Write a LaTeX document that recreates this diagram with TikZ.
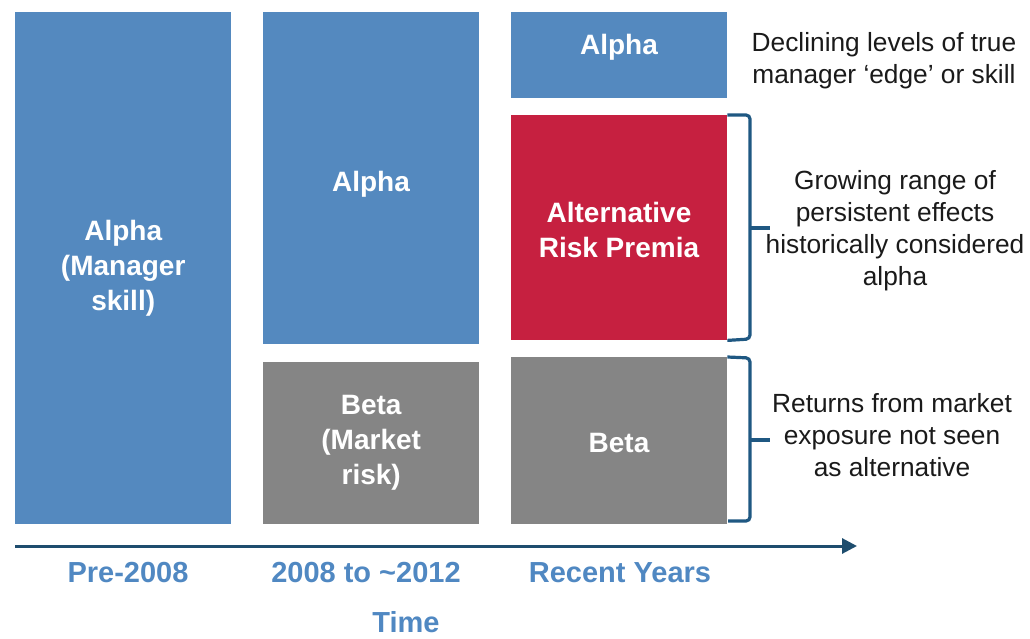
\documentclass[tikz,border=0pt]{standalone}
\usepackage{fontspec}
\setmainfont{Liberation Sans}
\usetikzlibrary{arrows.meta}

\definecolor{alphablue}{HTML}{5489BF}
\definecolor{premiared}{HTML}{C62040}
\definecolor{betagray}{HTML}{858585}
\definecolor{bracecol}{HTML}{1F5882}
\definecolor{axiscol}{HTML}{1E4D6E}
\definecolor{periodblue}{HTML}{5088C2}
\definecolor{notetext}{HTML}{1A1A1A}

\begin{document}
\begin{tikzpicture}[x=1pt, y=-1pt,
  block/.style={rectangle, anchor=north west, inner sep=0pt, text=white,
    font=\bfseries\fontsize{28}{35}\selectfont, align=center},
  blocktext/.style={text=white, font=\bfseries\fontsize{28}{35}\selectfont, align=center},
  note/.style={font=\fontsize{26.3}{32}\selectfont, align=center, text=notetext},
  period/.style={font=\bfseries\fontsize{29}{32}\selectfont, text=periodblue},
  bracket/.style={draw=bracecol, line width=3.2pt, rounded corners=4pt},
  axis/.style={draw=axiscol, line width=3pt, -{Triangle[length=15pt,width=15pt]}}]

\useasboundingbox (0,0) rectangle (1030,639);

% Pre-2008 column
\node[block, fill=alphablue, minimum width=216pt, minimum height=512pt] (preA) at (15,12)
  {Alpha\\(Manager\\skill)};

% 2008 to ~2012 column
\node[block, fill=alphablue, minimum width=216pt, minimum height=332pt] (midA) at (263,12) {};
\node[blocktext] (midAlbl) at (371,184) {Alpha};
\node[block, fill=betagray, minimum width=216pt, minimum height=162pt] (midB) at (263,362)
  {Beta\\(Market\\risk)};

% Recent years column
\node[block, fill=alphablue, minimum width=216pt, minimum height=86pt] (recA) at (511,12) {};
\node[blocktext] (recAlbl) at (619,47) {Alpha};
\node[block, fill=premiared, minimum width=216pt, minimum height=225pt] (recP) at (511,115) {};
\node[blocktext] (recPlbl) at (619,230) {Alternative\\Risk Premia};
\node[block, fill=betagray, minimum width=216pt, minimum height=167pt] (recB) at (511,357) {};
\node[blocktext] (recBlbl) at (619,443) {Beta};

% Brackets next to the recent-years blocks
\draw[bracket] (recP.north east) -- (750,115) -- (750,339) -- (recP.south east);
\draw[bracket] (750,228) -- (770,228);
\draw[bracket] (recB.north east) -- (750,358) -- (750,521) -- (728,521);
\draw[bracket] (750,440) -- (770,440);

% Explanatory notes
\node[note] (noteA) at (884,61) {Declining levels of true\\manager `edge' or skill};
\node[note] (noteP) at (895,231) {Growing range of\\persistent effects\\historically considered\\alpha};
\node[note] (noteB) at (892,435) {Returns from market\\exposure not seen\\as alternative};

% Time axis
\coordinate (tstart) at (15,546);
\coordinate (tend) at (857,546);
\draw[axis] (tstart) -- (tend);

\node[period] (p1) at (128,573) {Pre-2008};
\node[period] (p2) at (366,573) {2008 to \textasciitilde2012};
\node[period] (p3) at (620,573) {Recent Years};
\node[period] (ptime) at (406,622) {Time};

\end{tikzpicture}
\end{document}
